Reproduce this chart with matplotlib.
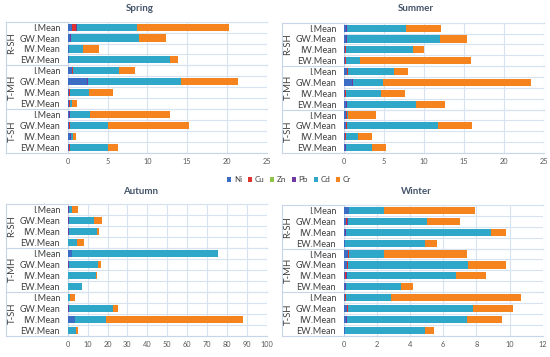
import matplotlib
matplotlib.use('Agg')
import matplotlib.pyplot as plt
import matplotlib.transforms as mtransforms
import numpy as np

plt.rcParams['font.family'] = ['Lato', 'DejaVu Sans']

# ── data ─────────────────────────────────────────────────────
categories = ['I.Mean', 'GW.Mean', 'IW.Mean', 'EW.Mean'] * 3
groups = ['R-SH', 'T-MH', 'T-SH']
metals = ['Ni', 'Cu', 'Zn', 'Pb', 'Cd', 'Cr']
metal_colors = ['#3C6DC5', '#E0322C', '#8FC449', '#6F3AA0', '#2EA7C9', '#F5841F']

# rows: Ni, Cu, Zn, Pb, Cd, Cr ; columns follow `categories`
spring = np.array([
    [0.60, 0.30, 0.10, 0.10, 0.60, 2.40, 0.10, 0.10, 0.10, 0.20, 0.25, 0.10],
    [0.50, 0.05, 0.05, 0.05, 0.05, 0.05, 0.15, 0.15, 0.05, 0.05, 0.10, 0.15],
    [0.00, 0.00, 0.00, 0.00, 0.00, 0.00, 0.00, 0.00, 0.00, 0.00, 0.00, 0.00],
    [0.05, 0.05, 0.05, 0.00, 0.05, 0.10, 0.05, 0.05, 0.10, 0.05, 0.05, 0.05],
    [7.60, 8.60, 1.70, 12.65, 5.70, 11.65, 2.40, 0.20, 2.55, 4.70, 0.25, 4.70],
    [11.5, 3.40, 2.00, 1.10, 2.00, 7.20, 3.00, 0.70, 10.1, 10.2, 0.35, 1.30],
])
summer = np.array([
    [0.25, 0.25, 0.10, 0.15, 0.40, 1.00, 0.15, 0.20, 0.30, 0.30, 0.10, 0.10],
    [0.05, 0.05, 0.15, 0.05, 0.10, 0.05, 0.05, 0.10, 0.05, 0.05, 0.15, 0.05],
    [0.00, 0.00, 0.00, 0.00, 0.00, 0.00, 0.00, 0.00, 0.00, 0.00, 0.00, 0.00],
    [0.05, 0.05, 0.05, 0.05, 0.05, 0.05, 0.05, 0.05, 0.05, 0.05, 0.05, 0.05],
    [7.45, 11.65, 8.30, 1.75, 5.65, 3.80, 4.35, 8.65, 0.05, 11.4, 1.45, 3.25],
    [4.40, 3.40, 1.40, 13.9, 1.80, 18.5, 3.00, 3.60, 3.55, 4.20, 1.80, 1.75],
])
autumn = np.array([
    [0.3, 0.3, 0.3, 0.2, 2.2, 0.3, 0.2, 0.2, 0.2, 0.3, 3.5, 0.2],
    [0.05, 0.05, 0.05, 0.05, 0.05, 0.05, 0.05, 0.05, 0.05, 0.05, 0.1, 0.05],
    [0.0, 0.0, 0.0, 0.0, 0.0, 0.0, 0.0, 0.0, 0.0, 0.0, 0.0, 0.0],
    [0.1, 0.1, 0.1, 0.1, 0.1, 0.1, 0.1, 0.1, 0.1, 0.1, 0.1, 0.1],
    [1.8, 12.7, 14.4, 4.5, 73.0, 14.7, 13.8, 6.8, 0.6, 22.5, 15.6, 4.0],
    [2.7, 3.9, 1.0, 3.5, 0.2, 1.7, 0.7, 0.2, 2.9, 2.5, 68.6, 0.6],
])
winter = np.array([
    [0.30, 0.16, 0.08, 0.06, 0.28, 0.18, 0.10, 0.08, 0.10, 0.20, 0.12, 0.06],
    [0.02, 0.02, 0.02, 0.01, 0.02, 0.06, 0.02, 0.01, 0.02, 0.06, 0.02, 0.01],
    [0.00, 0.00, 0.00, 0.00, 0.00, 0.00, 0.00, 0.00, 0.00, 0.00, 0.00, 0.00],
    [0.02, 0.05, 0.06, 0.02, 0.02, 0.02, 0.05, 0.02, 0.02, 0.02, 0.06, 0.02],
    [2.10, 4.82, 8.72, 4.81, 2.11, 7.26, 6.63, 3.33, 2.69, 7.54, 7.24, 4.81],
    [5.45, 1.98, 0.92, 0.75, 5.01, 2.28, 1.76, 0.74, 7.88, 2.37, 2.11, 0.57],
])

GRID = '#D8E3F1'
SEP = '#C8D5E8'
TEXT = '#404040'

fig = plt.figure(figsize=(5.5, 3.57), dpi=100)
fig.patch.set_facecolor('white')


def panel(rect, data, xmax, step, title, title_xy):
    ax = fig.add_axes(rect)
    y = np.arange(len(categories))
    left = np.zeros(len(categories))
    for vals, col, name in zip(data, metal_colors, metals):
        ax.barh(y, vals, left=left, height=0.66, color=col, label=name,
                zorder=3, linewidth=0)
        left = left + vals

    ax.set_xlim(0, xmax)
    ax.set_ylim(len(categories) - 0.5, -0.5)
    ax.set_xticks(np.arange(0, xmax + step / 2, step))
    ax.set_yticks(y)
    ax.set_yticklabels(categories, fontsize=6.5, color=TEXT)
    ax.set_yticks(np.arange(-0.5, len(categories), 1), minor=True)
    ax.tick_params(axis='y', which='both', length=0, pad=5.5)
    ax.tick_params(axis='x', length=0, pad=3.5, labelsize=5.3, labelcolor='#595959')
    ax.grid(True, axis='x', color=GRID, linewidth=0.8, zorder=0)
    ax.grid(True, axis='y', which='minor', color=GRID, linewidth=0.8, zorder=0)
    ax.grid(False, axis='y', which='major')
    for s in ax.spines.values():
        s.set_visible(False)
    ax.axvline(0, color=SEP, linewidth=0.8, zorder=2)

    # multi-level category axis
    trans = mtransforms.blended_transform_factory(ax.transAxes, ax.transData)
    for b in [-0.5, 3.5, 7.5, 11.5]:
        ax.plot([-0.31, 1.0], [b, b], transform=trans, color=SEP,
                linewidth=0.8, clip_on=False, zorder=1)
    ax.plot([-0.31, -0.31], [-0.5, 11.5], transform=trans, color=SEP,
            linewidth=0.8, clip_on=False, zorder=1)
    for i, g in enumerate(groups):
        ax.text(-0.28, 4 * i + 1.5, g, transform=trans, rotation=90,
                ha='center', va='center', fontsize=6.8, color=TEXT)

    fig.text(title_xy[0] / 550, 1 - title_xy[1] / 357, title, ha='center',
             va='center', fontsize=7, fontweight='bold', color='#44546A')
    return ax


ax1 = panel([0.1231, 0.5723, 0.3618, 0.367], spring, 25, 5, 'Spring', (140, 8.5))
panel([0.6255, 0.5714, 0.363, 0.365], summer, 25, 5, 'Summer', (416, 8.5))
panel([0.1231, 0.0597, 0.3618, 0.369], autumn, 100, 10, 'Autumn', (140.5, 191.5))
panel([0.6249, 0.0597, 0.3618, 0.366], winter, 12, 2, 'Winter', (416, 192))

handles, labels = ax1.get_legend_handles_labels()
fig.legend(handles, labels, loc='center', bbox_to_anchor=(289 / 550, 1 - 180 / 357),
           ncol=6, frameon=False, fontsize=5.8, handlelength=0.55, handleheight=0.55,
           handletextpad=0.3, columnspacing=0.7, labelcolor=TEXT)

fig.savefig('out.png', dpi=100)
